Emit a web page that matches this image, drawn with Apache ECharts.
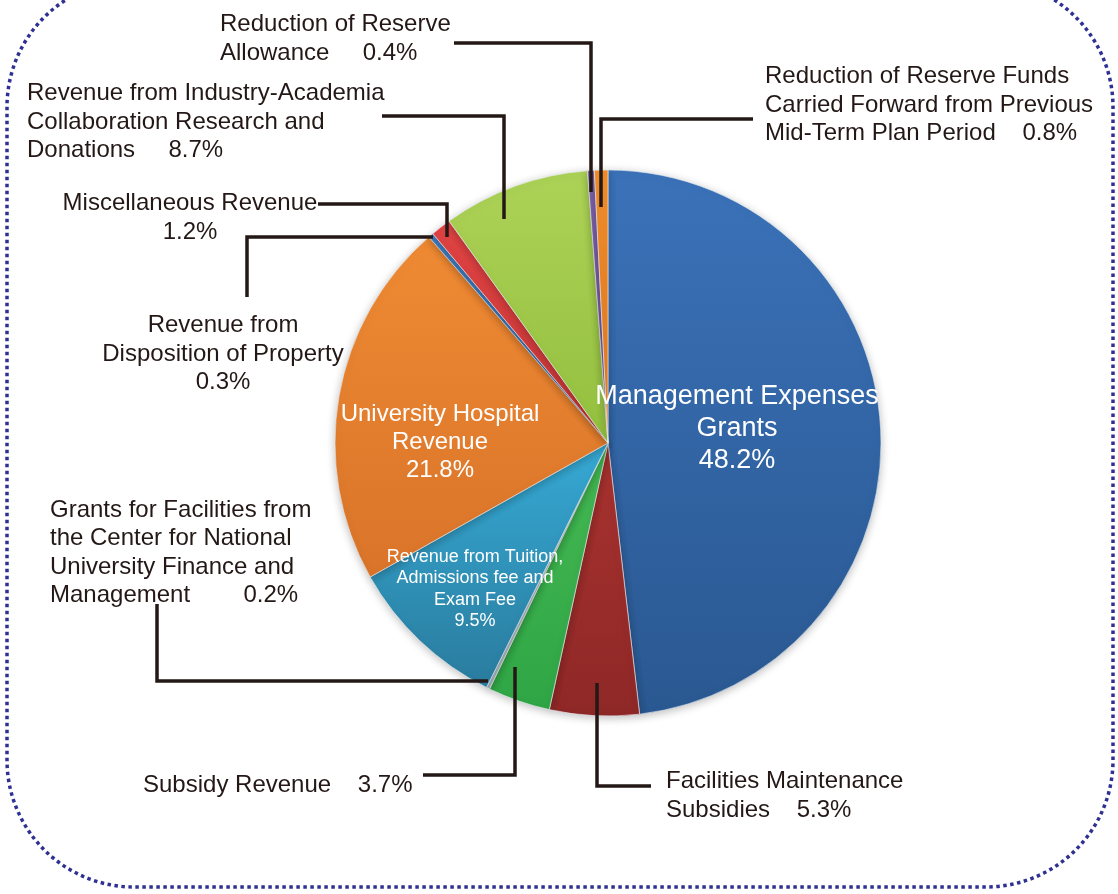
<!DOCTYPE html>
<html>
<head>
<meta charset="utf-8">
<script src="https://cdn.jsdelivr.net/npm/echarts@6/dist/echarts.min.js"></script>
<style>
  html, body { margin: 0; padding: 0; background: #ffffff; }
  #chart { width: 1118px; height: 894px; }
</style>
</head>
<body>
<div id="chart"></div>
<script>
// ---- data ----
const categories = [
  'Management Expenses Grants',
  'Facilities Maintenance Subsidies',
  'Subsidy Revenue',
  'Grants for Facilities from the Center for National University Finance and Management',
  'Revenue from Tuition, Admissions fee and Exam Fee',
  'University Hospital Revenue',
  'Revenue from Disposition of Property',
  'Miscellaneous Revenue',
  'Revenue from Industry-Academia Collaboration Research and Donations',
  'Reduction of Reserve Allowance',
  'Reduction of Reserve Funds Carried Forward from Previous Mid-Term Plan Period'
];
const values = [48.2, 5.3, 3.7, 0.2, 9.5, 21.8, 0.3, 1.2, 8.7, 0.4, 0.8];
// label text as printed ({v} is replaced by the value)
const labelTexts = [
  'Management Expenses\nGrants\n{v}',
  'Facilities Maintenance\nSubsidies    {v}',
  'Subsidy Revenue    {v}',
  'Grants for Facilities from\nthe Center for National\nUniversity Finance and\nManagement        {v}',
  'Revenue from Tuition,\nAdmissions fee and\nExam Fee\n{v}',
  'University Hospital\nRevenue\n{v}',
  'Revenue from\nDisposition of Property\n{v}',
  'Miscellaneous Revenue\n{v}',
  'Revenue from Industry-Academia\nCollaboration Research and\nDonations     {v}',
  'Reduction of Reserve\nAllowance     {v}',
  'Reduction of Reserve Funds\nCarried Forward from Previous\nMid-Term Plan Period    {v}'
];
const insideLabels = [0, 4, 5];

// ---- styles ----
const sliceColors = [
  ['#3b72b9', '#2a5891'],
  ['#a8322f', '#8e2827'],
  ['#45b953', '#2fa545'],
  ['#c9d3da', '#aab7c0'],
  ['#36a9d4', '#2a7c9e'],
  ['#ef8a33', '#d9742a'],
  ['#3f7fc6', '#3570b3'],
  ['#df4343', '#c93636'],
  ['#add257', '#93bf3e'],
  ['#8063ad', '#6d529a'],
  ['#f08d2c', '#e07a22']
];
const insideFont = { 0: 27, 4: 18, 5: 24 };
const insideLineHeight = { 0: 32, 4: 21.5, 5: 28 };

// ---- label placement (pixels) ----
const labelPlace = {
  0: { x: 737, y: 429, align: 'center' },
  1: { x: 666, y: 796, align: 'left', line: [[597, 683], [597, 786], [651, 786]] },
  2: { x: 143, y: 785, align: 'left', line: [[515, 667], [515, 775], [423, 775]] },
  3: { x: 50, y: 553, align: 'left', line: [[488, 681], [157, 681], [157, 604]] },
  4: { x: 475, y: 589, align: 'center' },
  5: { x: 440, y: 442, align: 'center' },
  6: { x: 223, y: 354, align: 'center', line: [[433, 237], [247, 237], [247, 297]] },
  7: { x: 190, y: 218, align: 'center', line: [[447, 237], [447, 204], [318, 204]] },
  8: { x: 27, y: 122, align: 'left', line: [[504, 219], [504, 116], [382, 116]] },
  9: { x: 220, y: 39, align: 'left', line: [[591, 192], [591, 43], [454, 43]] },
  10: { x: 765, y: 105, align: 'left', line: [[601, 207], [601, 119], [753, 119]] }
};

const chart = echarts.init(document.getElementById('chart'), null, { renderer: 'canvas' });

const pieGeom = {
  center: [608, 443],
  radius: [0, 273],
  startAngle: 90,
  clockwise: true
};

// coloured slices
const sliceData = categories.map((name, i) => ({
  name: name,
  value: values[i],
  itemStyle: {
    color: {
      type: 'linear', x: 0, y: 0, x2: 0, y2: 1,
      colorStops: [
        { offset: 0, color: sliceColors[i][0] },
        { offset: 1, color: sliceColors[i][1] }
      ]
    }
  }
}));

// overlay (transparent) carrying labels and leader lines above the slices
const labelData = categories.map((name, i) => {
  const item = { name: name, value: values[i] };
  if (insideLabels.indexOf(i) >= 0) {
    item.label = {
      color: '#ffffff',
      fontSize: insideFont[i],
      lineHeight: insideLineHeight[i]
    };
    item.labelLine = { show: false };
  }
  return item;
});

chart.setOption({
  backgroundColor: '#ffffff',
  animation: false,
  graphic: [{
    type: 'rect',
    silent: true,
    z: 0,
    shape: { x: 7, y: -20, width: 1106, height: 907, r: 127 },
    style: { fill: null, stroke: '#2e3192', lineWidth: 3.5, lineDash: [3.5, 3.5] }
  }],
  series: [
    Object.assign({
      type: 'pie',
      z: 2,
      silent: true,
      data: sliceData,
      label: { show: false },
      labelLine: { show: false },
      itemStyle: {
        borderColor: 'rgba(235,240,245,0.6)',
        borderWidth: 1,
        shadowBlur: 8,
        shadowOffsetY: 2,
        shadowColor: 'rgba(0,0,0,0.25)'
      }
    }, pieGeom),
    Object.assign({
      type: 'pie',
      z: 5,
      silent: true,
      avoidLabelOverlap: false,
      data: labelData,
      itemStyle: { color: 'rgba(0,0,0,0)', borderWidth: 0 },
      label: {
        show: true,
        position: 'outside',
        fontFamily: '"Liberation Sans", Arial, sans-serif',
        fontSize: 24,
        lineHeight: 28.5,
        color: '#231815',
        formatter: function (p) {
          return labelTexts[p.dataIndex].replace('{v}', values[p.dataIndex].toFixed(1) + '%');
        }
      },
      labelLine: {
        show: true,
        smooth: false,
        length: 10,
        length2: 10,
        lineStyle: { color: '#231815', width: 3.5, cap: 'butt', join: 'miter' }
      },
      labelLayout: function (params) {
        const p = labelPlace[params.dataIndex];
        const out = { x: p.x, y: p.y, align: p.align, verticalAlign: 'middle' };
        if (p.line) out.labelLinePoints = p.line;
        return out;
      }
    }, pieGeom)
  ]
});
</script>
</body>
</html>
